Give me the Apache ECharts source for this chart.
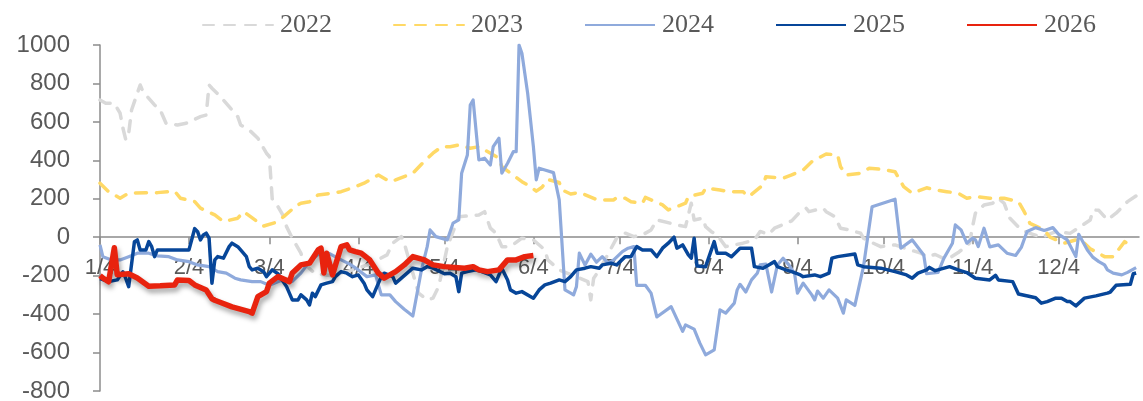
<!DOCTYPE html>
<html><head><meta charset="utf-8">
<script src="https://cdn.jsdelivr.net/npm/echarts@6/dist/echarts.min.js"></script>
<style>html,body{margin:0;padding:0;background:#fff}#c{width:1143px;height:401px}</style>
</head><body><div id="c"></div>
<script>
const tickLabels = ['1/4','2/4','3/4','4/4','5/4','6/4','7/4','8/4','9/4','10/4','11/4','12/4'];
const seriesNames = ['2022','2023','2024','2025','2026'];

const y2022 = [['1/4',714],['1/6',697],['1/9',697],['1/11',645],['1/12',567],['1/13',506],['1/14',541],['1/15',662],['1/17',749],['1/18',792],['1/19',757],['1/23',688],['1/25',662],['1/27',593],['1/31',584],['2/3',593],['2/8',627],['2/10',636],['2/11',792],['2/12',775],['2/15',731],['2/18',679],['2/21',627],['2/22',584],['2/25',558],['2/28',515],['3/3',437],['3/4',420],['3/5',200],['3/7',159],['3/9',107],['3/10',55],['3/12',-5],['3/15',-83],['3/16',-135],['3/20',-190],['3/26',-200],['4/2',-170],['4/8',-140],['4/14',-92],['4/16',-31],['4/19',3],['4/20',-31],['4/25',-291],['4/28',-326],['4/30',-317],['5/2',-257],['5/5',-50],['5/9',107],['5/16',116],['5/18',133],['5/20',47],['5/22',21],['5/24',-49],['5/27',-49],['5/31',-5],['6/4',-14],['6/8',-66],['6/9',-118],['6/13',-170],['6/18',-200],['6/23',-231],['6/24',-326],['6/25',-213],['6/27',-170],['7/3',-5],['7/6',21],['7/9',3],['7/12',12],['7/15',38],['7/17',90],['7/22',72],['7/24',64],['7/27',55],['7/29',177],['7/30',90],['8/2',99],['8/3',55],['8/5',29],['8/7',12],['8/10',-49],['8/16',-31],['8/20',-14],['8/22',30],['8/25',15],['8/27',47],['8/31',72],['9/2',85],['9/5',133],['9/7',151],['9/8',133],['9/13',151],['9/14',133],['9/16',116],['9/17',107],['9/19',47],['9/22',38],['9/26',21],['9/27',-5],['9/28',-14],['10/3',-49],['10/8',-40],['10/12',-60],['10/17',-83],['10/19',-101],['10/22',-90],['10/26',-118],['10/30',-80],['11/3',-31],['11/4',55],['11/5',125],['11/8',168],['11/11',177],['11/13',203],['11/15',177],['11/17',99],['11/21',38],['11/24',20],['11/28',0],['12/3',29],['12/8',20],['12/12',60],['12/15',90],['12/16',142],['12/18',140],['12/21',90],['12/24',125],['12/28',185],['12/31',215]];

const y2023 = [['1/4',281],['1/7',237],['1/11',203],['1/14',229],['1/20',232],['1/24',232],['1/30',240],['2/1',203],['2/6',185],['2/8',151],['2/13',116],['2/16',81],['2/21',99],['2/23',133],['2/27',90],['3/2',58],['3/6',76],['3/9',107],['3/13',159],['3/15',177],['3/18',185],['3/21',220],['3/26',229],['3/29',237],['4/3',263],['4/6',281],['4/11',324],['4/15',289],['4/17',298],['4/23',333],['4/26',380],['4/30',437],['5/3',471],['5/6',471],['5/9',480],['5/13',463],['5/16',471],['5/23',411],['5/24',367],['5/27',333],['5/31',289],['6/3',263],['6/5',240],['6/7',260],['6/9',300],['6/13',285],['6/14',246],['6/17',225],['6/20',233],['6/26',196],['6/29',194],['7/2',194],['7/3',207],['7/6',203],['7/8',185],['7/12',177],['7/13',207],['7/19',168],['7/21',142],['7/27',177],['7/28',211],['8/2',229],['8/3',255],['8/8',246],['8/11',237],['8/16',237],['8/18',211],['8/23',272],['8/24',315],['8/30',307],['9/2',324],['9/6',350],['9/9',393],['9/14',433],['9/18',428],['9/19',367],['9/21',324],['9/26',333],['9/29',359],['10/4',352],['10/8',341],['10/11',263],['10/14',229],['10/19',257],['10/22',246],['10/26',237],['10/30',229],['11/2',203],['11/5',211],['11/10',203],['11/15',203],['11/20',185],['11/22',133],['11/24',72],['11/29',38],['12/1',0],['12/6',-31],['12/10',-14],['12/13',-31],['12/15',-60],['12/20',-101],['12/23',-101],['12/27',-23],['12/29',-45]];

const y2024 = [['1/4',-40],['1/5',-101],['1/8',-118],['1/11',-118],['1/14',-101],['1/17',-83],['1/21',-83],['1/24',-97],['1/28',-101],['1/31',-118],['2/4',-127],['2/7',-144],['2/11',-153],['2/14',-179],['2/17',-187],['2/20',-213],['2/22',-222],['2/26',-231],['3/1',-231],['3/4',-250],['3/8',-225],['3/12',-230],['3/15',-187],['3/18',-127],['3/21',-90],['3/25',-85],['3/28',-110],['4/1',-140],['4/4',-170],['4/7',-205],['4/10',-196],['4/12',-300],['4/15',-300],['4/17',-335],['4/20',-375],['4/23',-410],['4/26',-170],['4/28',-49],['4/29',38],['5/1',3],['5/5',-14],['5/7',73],['5/9',90],['5/10',333],['5/12',428],['5/13',688],['5/14',714],['5/16',402],['5/18',411],['5/20',376],['5/21',471],['5/23',515],['5/24',333],['5/26',385],['5/28',445],['5/29',445],['5/30',1000],['5/31',957],['6/2',749],['6/4',471],['6/5',298],['6/6',359],['6/8',350],['6/11',336],['6/13',194],['6/15',-274],['6/17',-291],['6/18',-300],['6/19',-257],['6/20',-83],['6/22',-145],['6/24',-88],['6/26',-130],['6/28',-101],['6/30',-135],['7/2',-118],['7/5',-75],['7/7',-57],['7/9',-49],['7/10',-250],['7/13',-250],['7/15',-291],['7/17',-415],['7/22',-361],['7/26',-490],['7/27',-456],['7/30',-478],['8/1',-551],['8/3',-612],['8/6',-586],['8/8',-378],['8/10',-395],['8/13',-343],['8/14',-274],['8/15',-245],['8/17',-285],['8/19',-222],['8/21',-187],['8/22',-144],['8/24',-140],['8/26',-285],['8/28',-145],['8/30',-109],['9/1',-144],['9/3',-190],['9/4',-291],['9/6',-239],['9/9',-300],['9/10',-326],['9/11',-280],['9/13',-317],['9/15',-274],['9/18',-317],['9/20',-395],['9/21',-326],['9/24',-355],['9/27',-153],['9/30',159],['10/8',198],['10/10',-57],['10/14',-14],['10/18',-92],['10/19',-190],['10/23',-183],['10/25',-110],['10/28',-31],['10/29',64],['10/31',38],['11/2',-31],['11/4',-5],['11/5',-14],['11/6',-49],['11/8',47],['11/10',-50],['11/13',-40],['11/16',-83],['11/19',-95],['11/21',-53],['11/23',30],['11/26',50],['11/29',35],['12/2',50],['12/4',15],['12/7',-14],['12/10',-101],['12/11',15],['12/14',-66],['12/16',-105],['12/18',-127],['12/20',-144],['12/21',-170],['12/23',-187],['12/26',-196],['12/28',-183],['12/31',-158]];

const y2025 = [['1/4',-215],['1/7',-231],['1/10',-222],['1/12',-180],['1/13',-215],['1/14',-257],['1/16',-23],['1/17',-14],['1/18',-66],['1/20',-66],['1/21',-23],['1/22',-49],['1/23',-101],['1/24',-66],['2/4',-66],['2/6',45],['2/7',29],['2/8',-14],['2/9',12],['2/10',21],['2/11',-5],['2/12',-239],['2/13',-118],['2/14',-101],['2/16',-109],['2/18',-49],['2/19',-31],['2/21',-49],['2/22',-66],['2/24',-101],['2/25',-153],['2/26',-170],['2/28',-161],['3/2',-179],['3/3',-205],['3/5',-170],['3/7',-190],['3/10',-257],['3/12',-326],['3/14',-326],['3/15',-300],['3/17',-326],['3/18',-352],['3/19',-291],['3/20',-309],['3/22',-248],['3/24',-239],['3/26',-231],['3/27',-205],['3/29',-179],['3/31',-187],['4/2',-205],['4/4',-196],['4/6',-239],['4/7',-274],['4/9',-309],['4/10',-274],['4/12',-205],['4/13',-187],['4/16',-205],['4/17',-239],['4/19',-213],['4/21',-187],['4/23',-161],['4/26',-170],['4/28',-153],['4/30',-161],['5/4',-190],['5/6',-187],['5/8',-205],['5/9',-283],['5/10',-187],['5/12',-179],['5/15',-170],['5/17',-179],['5/20',-196],['5/22',-231],['5/23',-196],['5/24',-161],['5/26',-222],['5/27',-274],['5/29',-291],['5/31',-283],['6/4',-317],['6/6',-274],['6/8',-248],['6/10',-239],['6/13',-222],['6/15',-231],['6/17',-205],['6/19',-170],['6/22',-161],['6/24',-153],['6/27',-161],['6/28',-144],['7/1',-135],['7/3',-144],['7/6',-101],['7/8',-101],['7/10',-49],['7/12',-66],['7/15',-66],['7/17',-101],['7/19',-57],['7/21',-31],['7/23',0],['7/24',-57],['7/26',-40],['7/28',-92],['7/29',-109],['7/30',-5],['7/31',-150],['8/3',-153],['8/6',-23],['8/7',-83],['8/10',-83],['8/12',-101],['8/15',-57],['8/19',-57],['8/20',-153],['8/23',-161],['8/25',-144],['8/27',-127],['8/28',-153],['8/31',-170],['9/2',-179],['9/5',-196],['9/6',-205],['9/10',-196],['9/12',-205],['9/15',-187],['9/16',-109],['9/18',-101],['9/24',-87],['9/25',-144],['9/27',-153],['10/3',-161],['10/8',-179],['10/12',-196],['10/14',-213],['10/16',-187],['10/19',-170],['10/20',-157],['10/22',-174],['10/27',-153],['10/30',-170],['11/2',-184],['11/5',-213],['11/10',-222],['11/12',-198],['11/13',-222],['11/18',-231],['11/20',-295],['11/26',-315],['11/28',-343],['11/30',-335],['12/3',-317],['12/5',-317],['12/7',-335],['12/8',-335],['12/10',-357],['12/13',-317],['12/17',-305],['12/21',-291],['12/22',-285],['12/24',-250],['12/29',-245],['12/30',-190],['12/31',-186]];

const y2026 = [['1/4',-200],['1/5',-212],['1/7',-232],['1/9',-55],['1/10',-195],['1/14',-190],['1/17',-212],['1/21',-255],['1/25',-253],['1/30',-248],['1/31',-222],['2/4',-225],['2/6',-248],['2/10',-275],['2/12',-320],['2/13',-328],['2/19',-362],['2/25',-387],['2/26',-395],['2/28',-309],['3/3',-283],['3/4',-239],['3/7',-205],['3/11',-231],['3/12',-186],['3/15',-144],['3/18',-135],['3/21',-66],['3/22',-57],['3/23',-186],['3/24',-83],['3/26',-196],['3/29',-49],['3/31',-40],['4/1',-66],['4/3',-75],['4/5',-83],['4/8',-118],['4/11',-187],['4/13',-213],['4/17',-179],['4/20',-144],['4/23',-101],['4/27',-118],['4/30',-144],['5/4',-153],['5/11',-161],['5/14',-153],['5/16',-170],['5/19',-179],['5/23',-170],['5/26',-118],['5/29',-118],['6/1',-101],['6/4',-95]];

const yMin = -800, yMax = 1000, yStep = 200;

// daily category axis, Jan 4 through Jan 1 (non-leap calendar)
const days = [];
for (let d = new Date(2021, 0, 4); d <= new Date(2022, 0, 1); d.setDate(d.getDate() + 1)) {
  days.push((d.getMonth() + 1) + '/' + d.getDate());
}
const showTick = (i, v) => tickLabels.indexOf(v) >= 0;

function mk(name, data, color, width, dashed, shadow) {
  const ls = { color: color, width: width, type: dashed ? [11, 10] : 'solid', cap: dashed ? 'round' : 'butt', join: 'round' };
  if (shadow) { ls.shadowColor = 'rgba(0,0,0,0.35)'; ls.shadowBlur = 5; ls.shadowOffsetX = 2; ls.shadowOffsetY = 4; }
  return { name: name, type: 'line', data: data, symbol: 'none', showSymbol: false, smooth: false,
    lineStyle: ls, itemStyle: { color: color }, emphasis: { disabled: true }, animation: false };
}

const gridTop = 45, gridBottom = 10, H = 401;
const plotH = H - gridTop - gridBottom;
// place the category axis on the zero line
const zeroOffset = -plotH * (0 - yMin) / (yMax - yMin);

const chart = echarts.init(document.getElementById('c'), null, { renderer: 'canvas' });
chart.setOption({
  backgroundColor: '#fff',
  animation: false,
  grid: { left: 100, right: 4, top: gridTop, bottom: gridBottom, containLabel: false, outerBoundsMode: 'none' },
  legend: {
    data: seriesNames, left: 197, top: 7, itemWidth: 70, itemHeight: 14, itemGap: 61,
    itemStyle: { opacity: 0 },
    textStyle: { fontFamily: 'Liberation Serif', fontSize: 26, color: '#595959', padding: [0, 0, 0, 2] }
  },
  xAxis: {
    type: 'category', data: days, boundaryGap: false, position: 'bottom', offset: zeroOffset,
    axisLine: { onZero: false, lineStyle: { color: '#8c8c8c', width: 1.5 } },
    axisTick: { show: true, interval: showTick, length: 7, lineStyle: { color: '#8c8c8c', width: 1.5 } },
    axisLabel: { interval: showTick, fontFamily: 'Liberation Sans', fontSize: 22, color: '#595959', margin: 20, hideOverlap: false },
    splitLine: { show: false }
  },
  yAxis: {
    type: 'value', min: yMin, max: yMax, interval: yStep,
    axisLine: { show: true, lineStyle: { color: '#8c8c8c', width: 1.5 } },
    axisTick: { show: true, length: 7, lineStyle: { color: '#8c8c8c', width: 1.5 } },
    axisLabel: { fontFamily: 'Liberation Sans', fontSize: 24, color: '#595959', margin: 30, formatter: v => String(v) },
    splitLine: { show: false }
  },
  series: [
    mk('2022', y2022, '#D9D9D9', 3.5, true, false),
    mk('2023', y2023, '#FFD966', 3.5, true, false),
    mk('2024', y2024, '#8FAADC', 3.2, false, false),
    mk('2025', y2025, '#074699', 3.5, false, false),
    mk('2026', y2026, '#E8230E', 5.5, false, true)
  ]
});
</script>
</body></html>
